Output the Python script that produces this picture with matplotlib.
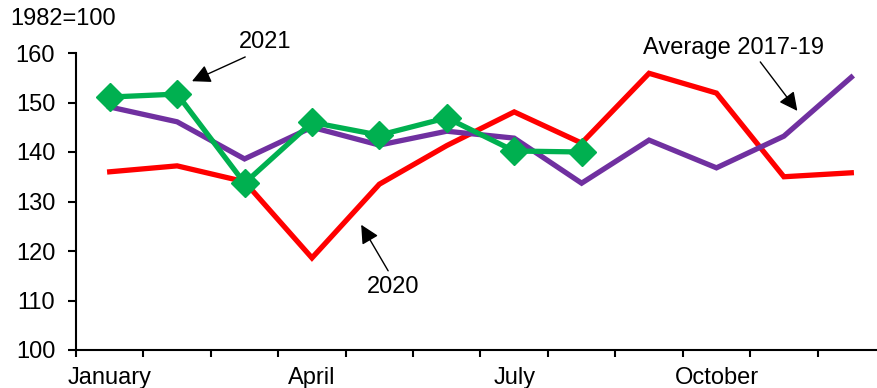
import matplotlib
matplotlib.use("Agg")
import matplotlib.pyplot as plt

plt.rcParams["font.family"] = ["Liberation Sans", "DejaVu Sans"]

# Monthly index values, 1982=100
months = ["Jan", "Feb", "Mar", "Apr", "May", "Jun",
          "Jul", "Aug", "Sep", "Oct", "Nov", "Dec"]
series_2020 = [136.0, 137.2, 134.0, 118.6, 133.5, 141.3,
               148.1, 141.8, 155.9, 151.9, 135.0, 135.8]
avg_2017_19 = [149.1, 146.1, 138.6, 145.0, 141.4, 144.2,
               142.8, 133.7, 142.4, 136.8, 143.2, 155.1]
series_2021 = [151.1, 151.7, 133.7, 146.0, 143.4, 146.9, 140.2, 140.0]

month_labels = ["January", "April", "July", "October"]
month_label_pos = [0, 3, 6, 9]

yticks = [100, 110, 120, 130, 140, 150, 160]

RED = "#FF0000"
PURPLE = "#7030A0"
GREEN = "#00B050"
FS = 17

W, H = 878, 388
fig = plt.figure(figsize=(W / 100, H / 100), dpi=100)
ax = fig.add_axes([76 / W, (H - 350) / H, (885 - 76) / W, (350 - 53) / H])

x_all = list(range(len(months)))
ax.plot(x_all, series_2020, color=RED, lw=3.8, solid_joinstyle="miter", zorder=2)
ax.plot(x_all, avg_2017_19, color=PURPLE, lw=3.8, solid_joinstyle="miter", zorder=3)
ax.plot(x_all[:len(series_2021)], series_2021, color=GREEN, lw=3.8,
        marker="D", markersize=14, zorder=4)

ax.set_xlim(-0.5, len(months) - 0.5)
ax.set_ylim(100, 160)

# tick marks on month boundaries, labels at quarter starts
ax.set_xticks([i - 0.5 for i in range(len(months) + 1)])
ax.set_xticklabels([])
ax.tick_params(axis="x", which="major", direction="out", length=5, width=1.5, color="black")
ax.set_xticks(month_label_pos, minor=True)
ax.set_xticklabels(month_labels, minor=True)
ax.tick_params(axis="x", which="minor", length=0, pad=12, labelsize=FS)

ax.set_yticks(yticks)
ax.tick_params(axis="y", direction="out", length=6, width=1.5, pad=9, labelsize=FS)

for side in ["top", "right"]:
    ax.spines[side].set_visible(False)
for side in ["left", "bottom"]:
    ax.spines[side].set_linewidth(1.5)

fig.text(10 / W, 1 - 19 / H, "1982=100", fontsize=FS, ha="left", va="center")

arrow = dict(arrowstyle="-|>", color="black", lw=1.0, mutation_scale=28,
             shrinkA=0, shrinkB=0)

ax.text(2.30, 162.2, "2021", fontsize=FS, ha="center", va="center", clip_on=False)
ax.annotate("", xy=(1.22, 154.3), xytext=(2.01, 159.2), arrowprops=arrow,
            annotation_clip=False)

ax.text(4.20, 112.7, "2020", fontsize=FS, ha="center", va="center")
ax.annotate("", xy=(3.73, 125.3), xytext=(4.13, 116.0), arrowprops=arrow)

ax.text(9.26, 161.0, "Average 2017-19", fontsize=FS, ha="center", va="center",
        clip_on=False)
ax.annotate("", xy=(10.20, 148.3), xytext=(9.65, 158.2), arrowprops=arrow,
            annotation_clip=False)

fig.savefig("out.png", dpi=100)
